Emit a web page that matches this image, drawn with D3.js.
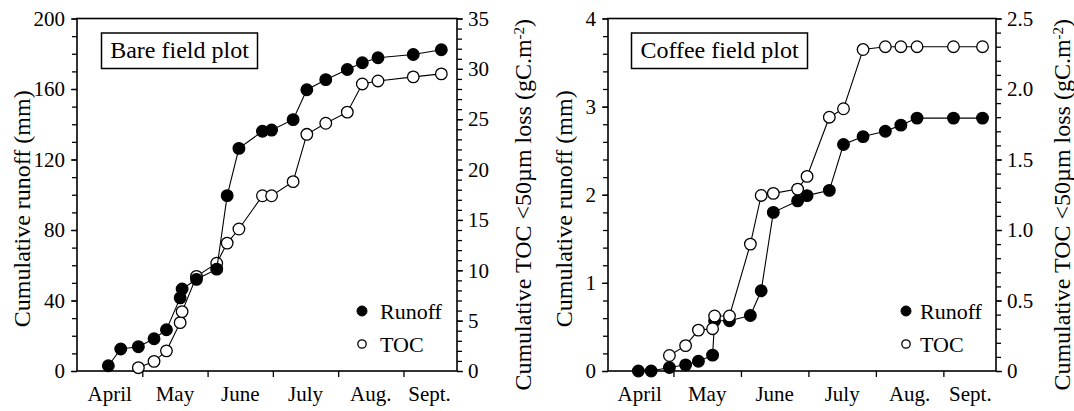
<!DOCTYPE html>
<html>
<head>
<meta charset="utf-8">
<script src="https://cdn.jsdelivr.net/npm/d3@7"></script>
<style>
  html, body { margin: 0; padding: 0; background: #fff; }
  svg { display: block; }
  text { font-family: "Liberation Serif", "Times New Roman", serif; fill: #000; }
</style>
</head>
<body>
<svg id="chart" width="1074" height="411"></svg>
<script>
// ---------- data ----------
const monthNames = ["April", "May", "June", "July", "Aug.", "Sept."];
const monthLabelAt = [0.5, 1.5, 2.5, 3.5, 4.5, 5.4];   // months since 1 April
const monthBounds = [1, 2, 3, 4, 5];

// sampling dates (months since 1 April)
const dates = [0.48, 0.67, 0.94, 1.18, 1.37, 1.58, 1.61, 1.83, 2.14, 2.30, 2.48,
               2.84, 2.98, 3.31, 3.52, 3.81, 4.14, 4.37, 4.61, 5.15, 5.58];
const tocDates = dates.slice(2);

const bareRunoff = [3.0, 12.5, 13.8, 18.3, 23.4, 41.5, 46.5, 52, 57.8, 99.5, 126.3,
                    136, 136.7, 142.6, 159.6, 165.3, 171.1, 174.9, 177.7, 179.6, 182.3];
const bareTOC = [0.33, 0.96, 2.0, 4.8, 5.9, 9.4, 10.7, 12.7, 14.1, 17.4, 17.4,
                 18.8, 23.5, 24.6, 25.7, 28.5, 28.8, 29.2, 29.5];

const coffeeRunoff = [0, 0, 0.04, 0.07, 0.11, 0.18, 0.57, 0.57, 0.63, 0.91, 1.80,
                      1.93, 1.99, 2.05, 2.57, 2.66, 2.72, 2.79, 2.87, 2.87, 2.87];
const coffeeTOC = [0.11, 0.18, 0.29, 0.30, 0.39, 0.39, 0.90, 1.245, 1.26, 1.29, 1.38,
                   1.80, 1.86, 2.28, 2.30, 2.30, 2.30, 2.30, 2.30];

const bareRunoffTicks = [0, 40, 80, 120, 160, 200];
const bareTOCTicks = [0, 5, 10, 15, 20, 25, 30, 35];
const coffeeRunoffTicks = [0, 1, 2, 3, 4];
const coffeeTOCTicks = [0, 0.5, 1.0, 1.5, 2.0, 2.5];

const legendLabels = ["Runoff", "TOC"];
const panelTitles = ["Bare field plot", "Coffee field plot"];
const leftTitle = "Cumulative runoff (mm)";

// ---------- layout ----------
const svg = d3.select("#chart");
const yTop = 18.5, yBottom = 371;

const panels = [
  {
    title: panelTitles[0], x0: 77, x1: 457, xdom: [0, 5.82],
    runoff: bareRunoff, toc: bareTOC,
    yL: [0, 200], yR: [0, 35],
    ticksL: bareRunoffTicks, minorL: d3.range(0, 201, 10),
    ticksR: bareTOCTicks, minorR: d3.range(0, 36, 1),
    fmtR: d => String(d), tocOnTop: false,
    box: [101.5, 33, 156, 35.5], legX: 362, legTextX: 380, leftTitleX: 30, rightTitleX: 531
  },
  {
    title: panelTitles[1], x0: 608, x1: 996, xdom: [0.03, 5.78],
    runoff: coffeeRunoff, toc: coffeeTOC,
    yL: [0, 4], yR: [0, 2.5],
    ticksL: coffeeRunoffTicks, minorL: d3.range(0, 4.01, 0.2),
    ticksR: coffeeTOCTicks, minorR: d3.range(0, 2.51, 0.1),
    fmtR: d => d === 0 ? "0" : d.toFixed(1), tocOnTop: true,
    box: [631.5, 33, 176, 35.5], legX: 906, legTextX: 920, leftTitleX: 572, rightTitleX: 1070
  }
];

panels.forEach(p => {
  const g = svg.append("g");
  const x = d3.scaleLinear().domain(p.xdom).range([p.x0, p.x1]);
  const yl = d3.scaleLinear().domain(p.yL).range([yBottom, yTop]);
  const yr = d3.scaleLinear().domain(p.yR).range([yBottom, yTop]);

  // minor ticks
  g.append("g").attr("transform", `translate(${p.x0},0)`)
    .call(d3.axisLeft(yl).tickValues(p.minorL).tickSize(5).tickFormat(""))
    .call(a => a.select(".domain").remove());
  g.append("g").attr("transform", `translate(${p.x1},0)`)
    .call(d3.axisRight(yr).tickValues(p.minorR).tickSize(5).tickFormat(""))
    .call(a => a.select(".domain").remove());

  // major ticks
  const al = g.append("g").attr("transform", `translate(${p.x0},0)`)
    .call(d3.axisLeft(yl).tickValues(p.ticksL).tickSize(6).tickPadding(6).tickFormat(d => String(d)));
  al.select(".domain").remove();
  const ar = g.append("g").attr("transform", `translate(${p.x1},0)`)
    .call(d3.axisRight(yr).tickValues(p.ticksR).tickSize(6).tickPadding(5).tickFormat(p.fmtR));
  ar.select(".domain").remove();
  const ab = g.append("g").attr("transform", `translate(0,${yBottom})`)
    .call(d3.axisBottom(x).tickValues(monthBounds).tickSize(6).tickFormat(""));
  ab.select(".domain").remove();

  g.selectAll(".tick line").attr("stroke", "#000").attr("stroke-width", 1.3);
  g.selectAll(".tick text").attr("font-size", 21).attr("font-family", "'Liberation Serif', serif");

  // month labels
  g.selectAll(".month").data(monthNames).join("text")
    .attr("class", "month")
    .attr("x", (d, i) => x(monthLabelAt[i]))
    .attr("y", 401)
    .attr("text-anchor", "middle")
    .attr("font-size", 21)
    .text(d => d);

  // frame
  g.append("rect")
    .attr("x", p.x0).attr("y", yTop)
    .attr("width", p.x1 - p.x0).attr("height", yBottom - yTop)
    .attr("fill", "none").attr("stroke", "#000").attr("stroke-width", 1.6);

  // series
  const runoffPts = p.runoff.map((v, i) => [x(dates[i]), yl(v)]);
  const tocPts = p.toc.map((v, i) => [x(tocDates[i]), yr(v)]);
  const line = d3.line();

  const drawSeries = (pts, filled) => {
    g.append("path").attr("d", line(pts))
      .attr("fill", "none").attr("stroke", "#000").attr("stroke-width", 1.1);
    g.append("g").selectAll("circle").data(pts).join("circle")
      .attr("cx", d => d[0]).attr("cy", d => d[1]).attr("r", 5.8)
      .attr("fill", filled ? "#000" : "#fff")
      .attr("stroke", "#000").attr("stroke-width", 1.3);
  };
  if (p.tocOnTop) { drawSeries(runoffPts, true); drawSeries(tocPts, false); }
  else { drawSeries(tocPts, false); drawSeries(runoffPts, true); }

  // title box
  g.append("rect")
    .attr("x", p.box[0]).attr("y", p.box[1]).attr("width", p.box[2]).attr("height", p.box[3])
    .attr("fill", "#fff").attr("stroke", "#000").attr("stroke-width", 1.5);
  g.append("text")
    .attr("x", p.box[0] + p.box[2] / 2).attr("y", p.box[1] + 25)
    .attr("text-anchor", "middle").attr("font-size", 24)
    .text(p.title);

  // legend
  const leg = g.append("g");
  leg.append("circle").attr("cx", p.legX).attr("cy", 311).attr("r", 5)
    .attr("fill", "#000").attr("stroke", "#000");
  leg.append("text").attr("x", p.legTextX).attr("y", 318.5).attr("font-size", 22).text(legendLabels[0]);
  leg.append("circle").attr("cx", p.legX).attr("cy", 344).attr("r", 4.2)
    .attr("fill", "#fff").attr("stroke", "#000").attr("stroke-width", 1.3);
  leg.append("text").attr("x", p.legTextX).attr("y", 351.5).attr("font-size", 22).text(legendLabels[1]);

  // axis titles
  g.append("text")
    .attr("transform", `translate(${p.leftTitleX},${(yTop + yBottom) / 2 + 14}) rotate(-90)`)
    .attr("text-anchor", "middle").attr("font-size", 24)
    .text(leftTitle);
  const rt = g.append("text")
    .attr("transform", `translate(${p.rightTitleX},${(yTop + yBottom) / 2 + 10}) rotate(-90)`)
    .attr("text-anchor", "middle").attr("font-size", 24);
  rt.append("tspan").text("Cumulative TOC <50\u00b5m loss (gC.m");
  rt.append("tspan").attr("dy", "-0.5em").attr("font-size", 15).text("-2");
  rt.append("tspan").attr("dy", "0.32em").text(")");
});
</script>
</body>
</html>
